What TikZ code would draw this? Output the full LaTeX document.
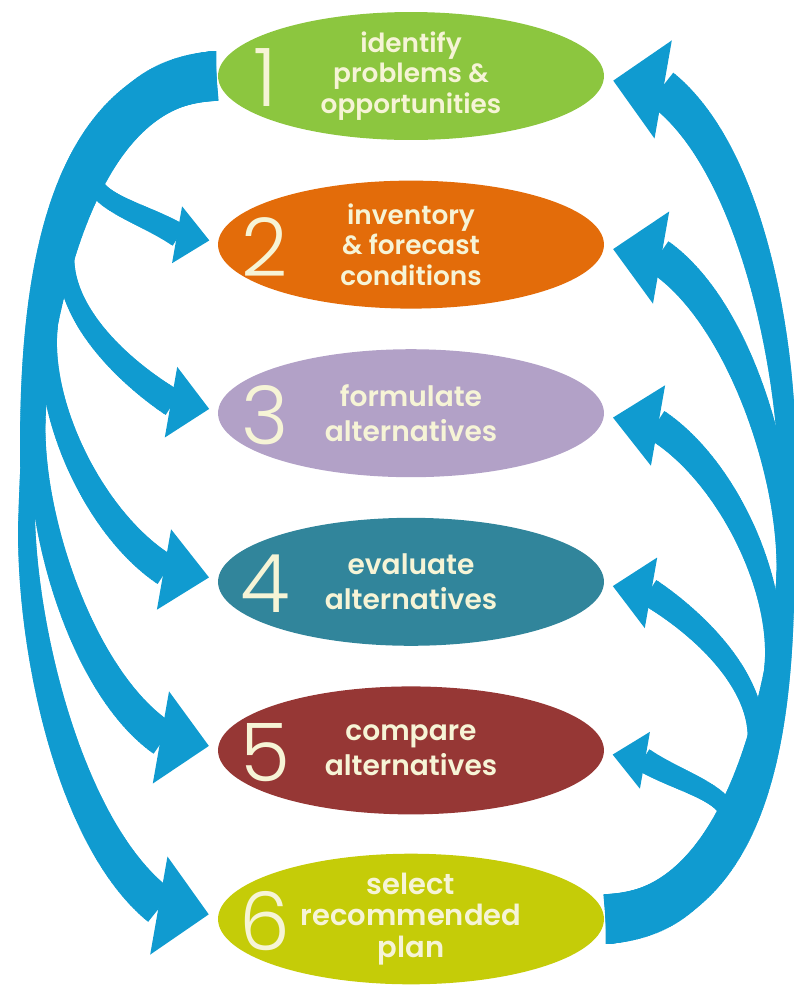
\documentclass[tikz,border=0pt]{standalone}
\usepackage{fontspec}
\setmainfont{Poppins}
\newfontfamily\labelfont{Poppins SemiBold}
\newfontfamily\numfont{Poppins Light}
\usetikzlibrary{calc,shapes.geometric,decorations.markings}

\definecolor{flowblue}{RGB}{16,155,208}
\definecolor{stepgreen}{RGB}{140,198,63}
\definecolor{steporange}{RGB}{227,108,10}
\definecolor{steplilac}{RGB}{178,161,199}
\definecolor{stepteal}{RGB}{49,133,155}
\definecolor{stepred}{RGB}{150,55,53}
\definecolor{stepolive}{RGB}{197,204,8}
\definecolor{stepcream}{RGB}{246,244,214}

% one thin slice of a tapering band, widths are given in px
\newcommand{\flowslice}{%
  \pgfmathsetmacro\flwpos{\pgfkeysvalueof{/pgf/decoration/mark info/distance from start}/\pgfdecoratedpathlength}%
  \pgfmathsetmacro\flwhalf{0.567*(\flwpos<\flwmid ? \flwstart+(\flwmin-\flwstart)*\flwpos/\flwmid : \flwmin+(\flwend-\flwmin)*(\flwpos-\flwmid)/(1-\flwmid))}%
  \fill[flowblue] (-1pt,-\flwhalf pt) rectangle (1pt,\flwhalf pt);%
}
% the head keeps its own angle, whatever way the band comes in
\newcommand{\flowhead}{%
  \pgfmathsetmacro\flwlen{0.567*\flwhl}%
  \pgfmathsetmacro\flwwid{0.567*\flwhw}%
  \pgftransformresetnontranslations
  \pgftransformrotate{\flwang}%
  \fill[flowblue] (-0.5pt,\flwwid pt) -- (\flwlen pt,0pt) -- (-0.5pt,-\flwwid pt) -- cycle;%
}

\tikzset{
  flow width/.code args={#1/#2/#3/#4}{\def\flwstart{#1}\def\flwmin{#2}\def\flwend{#3}\def\flwmid{#4}},
  flow head/.code args={#1/#2/#3}{\def\flwhl{#1}\def\flwhw{#2}\def\flwang{#3}},
  flow/.style={
    postaction={decorate,decoration={markings,
      mark=between positions 0 and 1 step 1.2pt with {\flowslice}}},
    postaction={decorate,decoration={markings,
      mark=at position 0.999 with {\flowhead}}}}
}

\begin{document}
\begin{tikzpicture}[x=0.02cm,y=-0.02cm,
    stage/.style={ellipse,minimum width=7.72cm,minimum height=2.56cm,inner sep=0pt,
      align=center,text=stepcream},
    stagenum/.style={inner sep=0pt,text=stepcream,font=\numfont\fontsize{46}{46}\selectfont}]
  \useasboundingbox (0,0) rectangle (794,992);

  \foreach[count=\i] \col/\sz/\bs/\txt in {
      stepgreen/15/17.5/{identify\\problems \&\\opportunities},
      steporange/15/17.5/{inventory\\\& forecast\\conditions},
      steplilac/16/20/{formulate\\alternatives},
      stepteal/16/20/{evaluate\\alternatives},
      stepred/16/20/{compare\\alternatives},
      stepolive/16.5/18/{select\\recommended\\plan}} {
    \node[stage,fill=\col,font=\labelfont\fontsize{\sz}{\bs}\selectfont]
      (e\i) at (411,{76+168.6*(\i-1)}) {\txt};
  }

  % left fan: out of step 1, down to every later step
  \foreach \k/\px/\py/\ax/\ay/\bx/\by/\cx/\cy/\qx/\qy/\hl/\hw/\we in {
      2/-123/-80/-65/0/20/-51/-14/35/-40/-25/32/29/12,
      3/-150/-168/-90/0/20/-98/-12/60/-55/-35/38/36/14,
      4/-168/-252/-110/5/15/-130/-9/80/-70/-45/45/41/16,
      5/-180/-330/-125/8/10/-160/-6/100/-80/-55/48/47/18,
      6/-191/-399/-170/15/0/-180/0/120/-90/-70/50/50/20} {
    \path[flow width=25/7/\we/0.5,flow head=\hl/\hw/-10,flow]
      ($(e1.west)+(-3,0)$) .. controls +(\ax,\ay) and +(\bx,\by) .. ($(e\k.west)+(\px,\py)$)
        .. controls +(\cx,\cy) and +(\qx,\qy) .. ($(e\k.west)+(-8-0.985*\hl,-4-0.174*\hl)$);
  }

  % right fan: out of step 6, back up to every earlier step
  \foreach \k/\px/\py/\ax/\ay/\bx/\by/\cx/\cy/\qx/\qy/\hl/\hw/\we in {
      5/123/80/65/0/-20/51/14/-35/40/25/32/29/12,
      4/150/168/90/0/-20/98/12/-60/55/35/38/36/14,
      3/168/252/110/-5/-15/130/9/-80/70/45/45/41/16,
      2/180/330/125/-8/-10/160/6/-100/80/55/48/47/18,
      1/183/399/170/-15/0/180/0/-120/90/70/50/50/20} {
    \path[flow width=25/7/\we/0.5,flow head=\hl/\hw/170,flow]
      ($(e6.east)+(3,0)$) .. controls +(\ax,\ay) and +(\bx,\by) .. ($(e\k.east)+(\px,\py)$)
        .. controls +(\cx,\cy) and +(\qx,\qy) .. ($(e\k.east)+(8+0.985*\hl,4+0.174*\hl)$);
  }

  \foreach \i in {1,...,6} {
    \node[stagenum] (n\i) at ($(e\i.center)+(-146,2)$) {\i};
  }
\end{tikzpicture}
\end{document}
